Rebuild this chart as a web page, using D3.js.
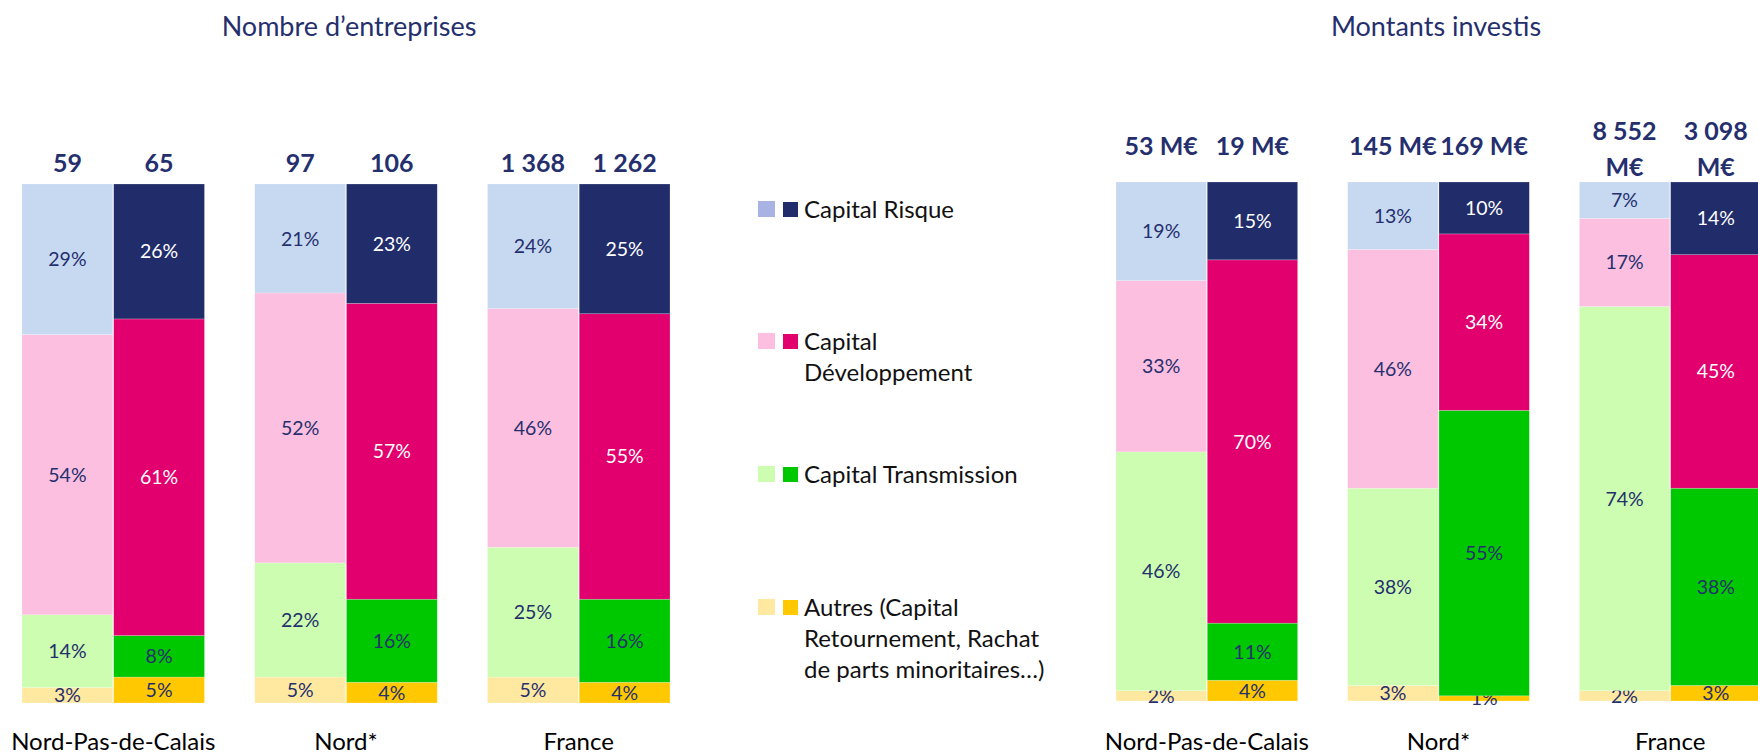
<!DOCTYPE html>
<html>
<head>
<meta charset="utf-8">
<title>Capital investissement</title>
<script src="https://d3js.org/d3.v7.min.js"></script>
<style>
body { margin: 0; background: #fff; }
text { font-family: Lato, "Noto Sans", sans-serif; }
</style>
</head>
<body>
<script>
var width = 1758,
    height = 756;

var regions = ["Nord-Pas-de-Calais", "Nord*", "France"];
// ordre d'empilement, du bas vers le haut
var series = ["autres", "transmission", "developpement", "risque"];

// Nombre d'entreprises : 2 barres par region (claire puis foncee)
var nbTotaux = ["59", "65", "97", "106", "1 368", "1 262"];
var nbRisque = [29, 26, 21, 23, 24, 25];
var nbDeveloppement = [54, 61, 52, 57, 46, 55];
var nbTransmission = [14, 8, 22, 16, 25, 16];
var nbAutres = [3, 5, 5, 4, 5, 4];

// Montants investis
var mtTotaux = ["53 M€", "19 M€", "145 M€", "169 M€", "8 552 M€", "3 098 M€"];
var mtRisque = [19, 15, 13, 10, 7, 14];
var mtDeveloppement = [33, 70, 46, 34, 17, 45];
var mtTransmission = [46, 11, 38, 55, 74, 38];
var mtAutres = [2, 4, 3, 1, 2, 3];

var legendLabels = [
    ["Capital Risque"],
    ["Capital", "Développement"],
    ["Capital Transmission"],
    ["Autres (Capital", "Retournement, Rachat", "de parts minoritaires…)"]
];

// couleurs dans l'ordre de series
var light = ["#FFE9A1", "#CCFDB0", "#FCBFDF", "#C6D9F1"];
var dark = ["#FFC800", "#00C800", "#E1006D", "#212D6B"];
var legendLight = ["#FFE9A1", "#CCFDB0", "#FCBFDF", "#A8B3E3"];
var navy = "#252F6E";
var darkText = [navy, navy, "#ffffff", "#ffffff"];

var svg = d3.select("body").append("svg")
    .attr("width", width)
    .attr("height", height);

function drawChart(cfg) {
    var g = svg.append("g");

    var x0 = d3.scaleBand()
        .domain(regions)
        .range(cfg.range)
        .paddingInner(0.216);
    var x1 = d3.scaleBand()
        .domain([0, 1])
        .range([0, x0.bandwidth()])
        .paddingInner(0.01);
    var y = d3.scaleLinear()
        .domain([0, 100])
        .range([cfg.bottom, cfg.top]);

    var rows = cfg.totals.map(function(t, i) {
        return {
            region: regions[Math.floor(i / 2)],
            bar: i % 2,
            total: t,
            autres: cfg.autres[i],
            transmission: cfg.transmission[i],
            developpement: cfg.developpement[i],
            risque: cfg.risque[i]
        };
    });
    var stacked = d3.stack().keys(series)(rows);

    function bx(d) { return x0(d.region) + x1(d.bar); }

    var layer = g.selectAll("g.layer")
        .data(stacked)
        .enter().append("g")
        .attr("class", "layer");

    layer.each(function(s, k) {
        var sel = d3.select(this);
        sel.selectAll("rect")
            .data(s)
            .enter().append("rect")
            .attr("x", function(d) { return bx(d.data); })
            .attr("y", function(d) { return y(d[1]); })
            .attr("width", x1.bandwidth())
            .attr("height", function(d) { return y(d[0]) - y(d[1]); })
            .attr("fill", function(d) { return d.data.bar ? dark[k] : light[k]; })
            .attr("stroke", "#ffffff")
            .attr("stroke-opacity", 0.35)
            .attr("stroke-width", 0.6);
        sel.selectAll("text")
            .data(s)
            .enter().append("text")
            .attr("x", function(d) { return bx(d.data) + x1.bandwidth() / 2; })
            .attr("y", function(d) { return (y(d[0]) + y(d[1])) / 2; })
            .attr("dy", "0.36em")
            .attr("text-anchor", "middle")
            .attr("font-size", 19.5)
            .attr("fill", function(d) { return d.data.bar ? darkText[k] : navy; })
            .text(function(d) { return (d[1] - d[0]) + "%"; });
    });

    // totaux au-dessus des barres
    var tot = g.selectAll("text.total")
        .data(rows)
        .enter().append("text")
        .attr("class", "total")
        .attr("text-anchor", "middle")
        .attr("font-size", 25)
        .attr("font-weight", "bold")
        .attr("fill", navy);
    tot.each(function(d) {
        var t = d3.select(this);
        var cx = bx(d) + x1.bandwidth() / 2;
        if (d.total.length > 7) {
            var cut = d.total.lastIndexOf(" ");
            t.append("tspan").attr("x", cx).attr("y", cfg.totalY2[0]).text(d.total.slice(0, cut));
            t.append("tspan").attr("x", cx).attr("y", cfg.totalY2[1]).text(d.total.slice(cut + 1));
        } else {
            t.append("tspan").attr("x", cx).attr("y", cfg.totalY).text(d.total);
        }
    });

    // libelles des regions
    g.selectAll("text.region")
        .data(regions)
        .enter().append("text")
        .attr("class", "region")
        .attr("x", function(d) { return x0(d) + x0.bandwidth() / 2; })
        .attr("y", 750)
        .attr("text-anchor", "middle")
        .attr("font-size", 24)
        .attr("fill", "#000000")
        .text(function(d) { return d; });

    g.append("text")
        .attr("x", cfg.titleX)
        .attr("y", 36)
        .attr("text-anchor", "middle")
        .attr("font-size", 27)
        .attr("fill", navy)
        .text(cfg.title);
}

drawChart({
    title: "Nombre d’entreprises",
    titleX: 349,
    range: [22, 670],
    top: 184,
    bottom: 703,
    totalY: 172,
    totalY2: [140, 176],
    totals: nbTotaux,
    risque: nbRisque,
    developpement: nbDeveloppement,
    transmission: nbTransmission,
    autres: nbAutres
});

drawChart({
    title: "Montants investis",
    titleX: 1436,
    range: [1116, 1761],
    top: 182,
    bottom: 701,
    totalY: 155,
    totalY2: [140, 176],
    totals: mtTotaux,
    risque: mtRisque,
    developpement: mtDeveloppement,
    transmission: mtTransmission,
    autres: mtAutres
});

// legende (haut en bas : risque, developpement, transmission, autres)
var legendY = [218, 350, 483, 616];
var legend = svg.append("g").attr("class", "legend");
legendLabels.forEach(function(lines, i) {
    var k = series.length - 1 - i;
    var base = legendY[i];
    legend.append("rect")
        .attr("x", 758).attr("y", base - 17)
        .attr("width", 17).attr("height", 16)
        .attr("fill", legendLight[k]);
    legend.append("rect")
        .attr("x", 783).attr("y", base - 16)
        .attr("width", 15).attr("height", 15)
        .attr("fill", dark[k]);
    var t = legend.append("text")
        .attr("font-size", 24)
        .attr("fill", "#111111");
    lines.forEach(function(line, j) {
        t.append("tspan")
            .attr("x", 804)
            .attr("y", base + j * 31)
            .text(line);
    });
});
</script>
</body>
</html>
